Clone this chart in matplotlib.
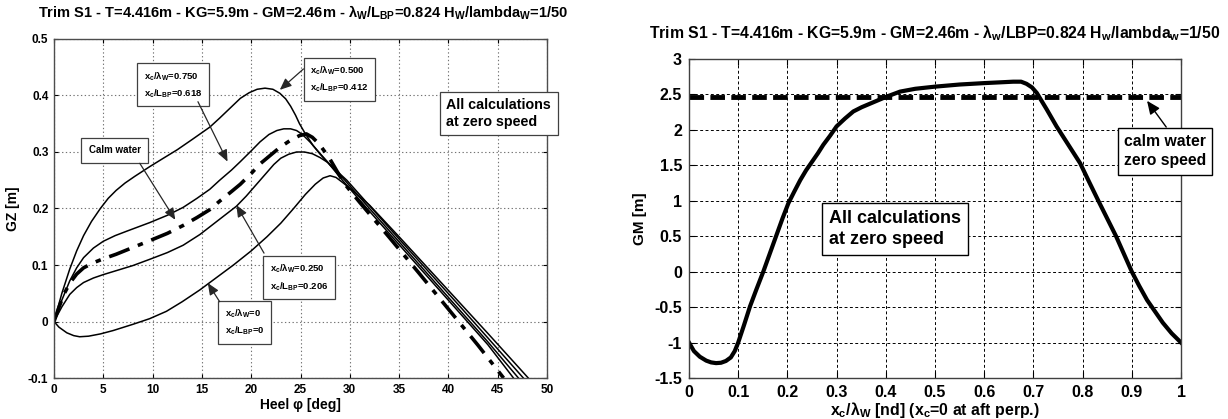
import matplotlib
matplotlib.use("Agg")
import matplotlib.pyplot as plt

plt.rcParams['font.family'] = ['Liberation Sans', 'DejaVu Sans']
plt.rcParams['font.weight'] = 'bold'
plt.rcParams['mathtext.fontset'] = 'custom'
plt.rcParams['mathtext.rm'] = 'Liberation Sans:bold'
plt.rcParams['mathtext.it'] = 'Liberation Sans:bold'
plt.rcParams['mathtext.bf'] = 'Liberation Sans:bold'

# ---------------- data: left panel (GZ curves) ----------------
heel_x05 = [0, 0.8, 1.6, 2.3, 3.0, 3.8, 4.7, 5.5, 6.3, 7.2, 8.2, 9.7, 11.0, 12.5, 14.0, 15.8, 16.8, 18.0,
            18.9, 19.8, 20.6, 21.4, 22.2, 22.9, 23.5, 24.0, 24.5, 24.9, 25.5, 26.3, 27.0, 27.7, 28.5, 29.3,
            32.0, 35.0, 38.0, 41.0, 44.0, 46.6]
gz_x05 = [0, 0.05, 0.093, 0.125, 0.152, 0.177, 0.200, 0.218, 0.232, 0.245, 0.257, 0.274, 0.288, 0.304,
          0.322, 0.344, 0.360, 0.380, 0.395, 0.405, 0.411, 0.413, 0.411, 0.404, 0.394, 0.381, 0.365, 0.350,
          0.332, 0.311, 0.296, 0.283, 0.266, 0.249, 0.195, 0.136, 0.077, 0.018, -0.041, -0.1]

heel_x075 = [0, 0.8, 1.6, 2.3, 3.0, 4.0, 5.0, 6.2, 7.4, 9.7, 11.5, 13.1, 14.5, 15.8, 16.8, 18.0, 18.9, 20.0,
             20.9, 21.8, 22.6, 23.3, 24.0, 24.6, 25.2, 26.0, 27.0, 28.0, 29.5, 32.0, 35.0, 38.0, 41.0, 44.0, 47.1]
gz_x075 = [0, 0.038, 0.072, 0.095, 0.113, 0.130, 0.142, 0.152, 0.160, 0.175, 0.188, 0.202, 0.218, 0.234,
           0.250, 0.268, 0.283, 0.302, 0.318, 0.331, 0.338, 0.341, 0.341, 0.338, 0.331, 0.317, 0.297, 0.277,
           0.25, 0.2, 0.141, 0.082, 0.023, -0.036, -0.1]

heel_calm = [0, 0.5, 1.0, 1.6, 2.3, 3.0, 4.0, 5.0, 6.3, 8.0, 9.7, 11.5, 13.1, 14.5, 15.8, 16.8, 18.0, 18.9,
             20.0, 20.9, 22.0, 22.9, 24.0, 24.9, 25.6, 26.2, 26.9, 27.9, 28.7, 29.5, 31.0, 34.0, 37.0, 40.0,
             43.0, 45.6]
gz_calm = [0, 0.025, 0.048, 0.068, 0.084, 0.095, 0.104, 0.111, 0.119, 0.131, 0.143, 0.156, 0.170, 0.184,
           0.198, 0.213, 0.230, 0.243, 0.262, 0.279, 0.295, 0.308, 0.321, 0.329, 0.332, 0.326, 0.314, 0.290,
           0.266, 0.243, 0.211, 0.149, 0.086, 0.022, -0.042, -0.1]

heel_x025 = [0, 0.8, 1.6, 2.3, 3.0, 4.0, 5.0, 6.5, 8.0, 9.7, 11.5, 13.1, 14.8, 16.5, 18.5, 19.5, 20.5, 21.5,
             22.3, 23.0, 23.8, 24.6, 25.4, 26.2, 27.0, 27.8, 28.7, 29.7, 32.0, 35.0, 38.0, 41.0, 44.0, 47.6]
gz_x025 = [0, 0.026, 0.048, 0.060, 0.069, 0.077, 0.083, 0.091, 0.099, 0.110, 0.122, 0.135, 0.154, 0.177,
           0.204, 0.222, 0.242, 0.262, 0.278, 0.289, 0.296, 0.300, 0.300, 0.297, 0.290, 0.281, 0.266, 0.25,
           0.205, 0.146, 0.088, 0.030, -0.029, -0.1]

heel_x0 = [0, 0.5, 1.3, 2.0, 2.6, 3.5, 4.7, 6.0, 8.0, 9.7, 11.4, 13.0, 14.8, 16.5, 18.2, 20.0, 21.6, 23.0,
           24.3, 25.5, 26.5, 27.3, 28.0, 28.6, 29.2, 30.0, 32.0, 35.0, 38.0, 41.0, 44.0, 48.1]
gz_x0 = [0, -0.010, -0.020, -0.025, -0.027, -0.026, -0.022, -0.016, -0.005, 0.005, 0.018, 0.035, 0.056,
         0.078, 0.100, 0.125, 0.150, 0.174, 0.200, 0.225, 0.243, 0.254, 0.258, 0.255, 0.247, 0.236, 0.206,
         0.150, 0.093, 0.036, -0.021, -0.1]

left_xticks = [0, 5, 10, 15, 20, 25, 30, 35, 40, 45, 50]
left_yticks = [-0.1, 0, 0.1, 0.2, 0.3, 0.4, 0.5]
left_yticklabels = ['-0.1', '0', '0.1', '0.2', '0.3', '0.4', '0.5']

# ---------------- data: right panel (GM vs crest position) ----------------
xc_lw = [0, 0.01, 0.022, 0.035, 0.045, 0.055, 0.065, 0.075, 0.085, 0.093, 0.1, 0.112, 0.124, 0.137, 0.151,
         0.165, 0.178, 0.19, 0.202, 0.214, 0.226, 0.238, 0.25, 0.262, 0.273, 0.287, 0.3, 0.317, 0.334, 0.351,
         0.368, 0.385, 0.402, 0.429, 0.46, 0.5, 0.55, 0.6, 0.63, 0.659, 0.675, 0.686, 0.697, 0.707, 0.727,
         0.747, 0.771, 0.795, 0.813, 0.832, 0.85, 0.868, 0.884, 0.9, 0.915, 0.931, 0.947, 0.963, 0.981, 1.0]
gm_wave = [-1.0, -1.12, -1.20, -1.255, -1.28, -1.29, -1.285, -1.26, -1.21, -1.12, -1.0, -0.75, -0.49,
           -0.25, 0.0, 0.27, 0.52, 0.75, 0.965, 1.13, 1.29, 1.43, 1.55, 1.67, 1.79, 1.92, 2.05, 2.16, 2.26,
           2.32, 2.37, 2.42, 2.47, 2.54, 2.58, 2.61, 2.64, 2.66, 2.67, 2.68, 2.68, 2.65, 2.60, 2.52, 2.29,
           2.05, 1.79, 1.53, 1.27, 1.0, 0.75, 0.50, 0.25, 0.0, -0.20, -0.40, -0.56, -0.72, -0.87, -1.0]
gm_calm = 2.46

right_xticks = [0, 0.1, 0.2, 0.3, 0.4, 0.5, 0.6, 0.7, 0.8, 0.9, 1]
right_xticklabels = ['0', '0.1', '0.2', '0.3', '0.4', '0.5', '0.6', '0.7', '0.8', '0.9', '1']
right_yticks = [-1.5, -1, -0.5, 0, 0.5, 1, 1.5, 2, 2.5, 3]
right_yticklabels = ['-1.5', '-1', '-0.5', '0', '0.5', '1', '1.5', '2', '2.5', '3']

title_left = r"Trim S1 - T=4.416m - KG=5.9m - GM=2.46m - λ$_W$/L$_{BP}$=0.824 H$_W$/lambda$_W$=1/50"
title_right = r"Trim S1 - T=4.416m - KG=5.9m - GM=2.46m - λ$_w$/LBP=0.824 H$_w$/lambda$_w$=1/50"

fig = plt.figure(figsize=(12.28, 4.19), dpi=100)
W, H = 1228, 419
axL = fig.add_axes([54 / W, 1 - 378 / H, (547 - 54) / W, (378 - 39) / H])
axR = fig.add_axes([689 / W, 1 - 378 / H, (1181 - 689) / W, (378 - 59) / H])

# ---- left panel ----
lw_thin = 1.1
axL.plot(heel_x05, gz_x05, color='black', lw=lw_thin)
axL.plot(heel_x075, gz_x075, color='black', lw=lw_thin)
axL.plot(heel_x025, gz_x025, color='black', lw=lw_thin)
axL.plot(heel_x0, gz_x0, color='black', lw=lw_thin)
axL.plot(heel_calm, gz_calm, color='black', lw=2.6, dashes=(6, 2.5, 1.5, 2.5))
axL.set_xlim(0, 50)
axL.set_ylim(-0.1, 0.5)
axL.set_xticks(left_xticks)
axL.set_yticks(left_yticks)
axL.set_yticklabels(left_yticklabels)
axL.grid(True, ls=(0, (1.2, 2.2)), color='0.45', lw=0.8)
axL.tick_params(direction='in', length=3, labelsize=8.5, top=True, right=True, pad=4)
for s in axL.spines.values():
    s.set_linewidth(1.0)
    s.set_color('0.3')
axL.set_xlabel("Heel φ [deg]", fontsize=10, fontweight='bold', labelpad=2)
axL.set_ylabel("GZ [m]", fontsize=10, fontweight='bold', labelpad=6)
fig.text(38 / W, 1 - 13 / H, title_left, fontsize=10.5, fontweight='bold', ha='left', va='center')

small_box = dict(boxstyle='square,pad=0.7', fc='white', ec='0.25', lw=0.9)
ap = dict(arrowstyle='-|>,head_length=0.7,head_width=0.3', color='0.15', lw=0.9, shrinkA=0, shrinkB=0)
fs_small = 6.8

axL.text(26.0, 0.428, "x$_c$/λ$_W$=0.500\nx$_c$/L$_{BP}$=0.412", fontsize=fs_small, ha='left', va='center',
         bbox=small_box, linespacing=1.5)
axL.annotate('', xy=(22.9, 0.410), xytext=(25.3, 0.447), arrowprops=ap)

axL.text(9.1, 0.419, "x$_c$/λ$_W$=0.750\nx$_c$/L$_{BP}$=0.618", fontsize=fs_small, ha='left', va='center',
         bbox=small_box, linespacing=1.5)
axL.annotate('', xy=(17.6, 0.283), xytext=(14.6, 0.389), arrowprops=ap)

axL.text(3.5, 0.303, "Calm water", fontsize=7, ha='left', va='center',
         bbox=dict(boxstyle='square,pad=0.75', fc='white', ec='0.25', lw=0.9))
axL.annotate('', xy=(12.3, 0.180), xytext=(8.7, 0.280), arrowprops=ap)

axL.text(21.9, 0.078, "x$_c$/λ$_W$=0.250\nx$_c$/L$_{BP}$=0.206", fontsize=fs_small, ha='left', va='center',
         bbox=small_box, linespacing=1.6)
axL.annotate('', xy=(18.5, 0.206), xytext=(21.3, 0.121), arrowprops=ap)

axL.text(17.3, -0.002, "x$_c$/λ$_W$=0\nx$_c$/L$_{BP}$=0", fontsize=fs_small, ha='left', va='center',
         bbox=small_box, linespacing=1.5)
axL.annotate('', xy=(15.6, 0.068), xytext=(16.8, 0.035), arrowprops=ap)

axL.text(39.8, 0.368, "All calculations\nat zero speed", fontsize=10.3, ha='left', va='center',
         bbox=dict(boxstyle='square,pad=0.45', fc='white', ec='0.25', lw=0.9), clip_on=False, linespacing=1.2)

# ---- right panel ----
axR.plot([0, 1], [gm_calm, gm_calm], color='black', lw=3.5, dashes=(3, 1.3))
axR.plot(xc_lw, gm_wave, color='black', lw=3.0, solid_joinstyle='round')
axR.set_xlim(0, 1)
axR.set_ylim(-1.5, 3)
axR.set_xticks(right_xticks)
axR.set_xticklabels(right_xticklabels)
axR.set_yticks(right_yticks)
axR.set_yticklabels(right_yticklabels)
axR.grid(True, ls=(0, (3, 2.5)), color='black', lw=0.7)
axR.tick_params(direction='in', length=4, labelsize=11.5, top=True, right=True, pad=5)
for s in axR.spines.values():
    s.set_linewidth(1.0)
    s.set_color('0.25')
axR.set_xlabel("x$_c$/λ$_W$ [nd] (x$_c$=0 at aft perp.)", fontsize=11.4, fontweight='bold', labelpad=0)
axR.set_ylabel("GM [m]", fontsize=11, fontweight='bold', labelpad=5)
axR.set_title(title_right, fontsize=11.3, fontweight='bold', pad=15)

axR.text(0.285, 0.60, "All calculations\nat zero speed", fontsize=13, ha='left', va='center',
         bbox=dict(boxstyle='square,pad=0.4', fc='white', ec='black', lw=1.0), linespacing=1.3)
axR.text(0.884, 1.70, "calm water\nzero speed", fontsize=11.3, ha='left', va='center',
         bbox=dict(boxstyle='square,pad=0.4', fc='white', ec='black', lw=1.0), clip_on=False, linespacing=1.35)
axR.annotate('', xy=(0.931, 2.41), xytext=(0.97, 2.04),
             arrowprops=dict(arrowstyle='-|>,head_length=0.8,head_width=0.35', color='black', lw=1.0,
                             shrinkA=0, shrinkB=0))

fig.savefig("out.png", dpi=100)
